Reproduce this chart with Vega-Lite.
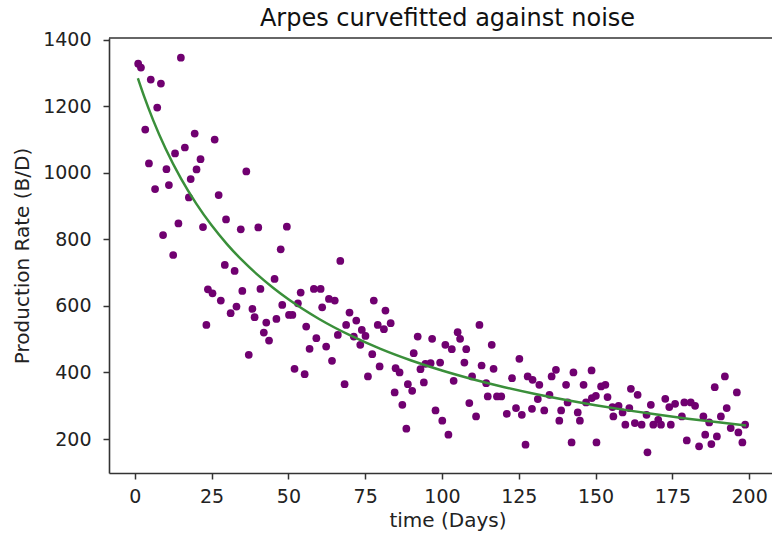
{
  "$schema": "https://vega.github.io/schema/vega-lite/v6.json",
  "autosize": {"type": "none"},
  "padding": {"left": 109, "top": 38, "right": 0, "bottom": 67},
  "width": 677,
  "height": 435,
  "background": "white",
  "title": {"text": "Arpes curvefitted against noise", "font": "DejaVu Sans", "fontSize": 24, "fontWeight": "normal", "color": "#111111", "anchor": "middle", "frame": "group", "offset": 0},
  "datasets": {
    "points": [
      {"t": 1.1, "q": 1328}, {"t": 2.0, "q": 1316}, {"t": 15.0, "q": 1346}, {"t": 5.2, "q": 1280}, {"t": 8.5, "q": 1268},
      {"t": 7.3, "q": 1196}, {"t": 3.4, "q": 1130}, {"t": 19.5, "q": 1118}, {"t": 26.0, "q": 1100}, {"t": 16.3, "q": 1076},
      {"t": 13.1, "q": 1058}, {"t": 21.4, "q": 1041}, {"t": 4.6, "q": 1028}, {"t": 10.3, "q": 1011}, {"t": 20.1, "q": 1010},
      {"t": 36.3, "q": 1004}, {"t": 18.2, "q": 981}, {"t": 11.1, "q": 963}, {"t": 6.6, "q": 951}, {"t": 27.3, "q": 933},
      {"t": 17.6, "q": 926}, {"t": 29.7, "q": 860}, {"t": 14.2, "q": 848}, {"t": 22.2, "q": 837}, {"t": 34.5, "q": 830},
      {"t": 40.2, "q": 836}, {"t": 9.2, "q": 813},
      {"t": 12.5, "q": 753}, {"t": 29.3, "q": 723}, {"t": 32.5, "q": 705}, {"t": 23.8, "q": 650}, {"t": 25.3, "q": 638},
      {"t": 35.0, "q": 645}, {"t": 40.9, "q": 651}, {"t": 28.0, "q": 616}, {"t": 33.1, "q": 598}, {"t": 31.2, "q": 578},
      {"t": 38.3, "q": 591}, {"t": 39.0, "q": 566}, {"t": 42.8, "q": 550}, {"t": 42.0, "q": 520}, {"t": 43.7, "q": 496},
      {"t": 23.3, "q": 543}, {"t": 37.1, "q": 453},
      {"t": 49.5, "q": 838}, {"t": 47.5, "q": 770}, {"t": 66.9, "q": 735}, {"t": 45.5, "q": 681}, {"t": 54.0, "q": 640},
      {"t": 58.3, "q": 651}, {"t": 60.5, "q": 651}, {"t": 63.2, "q": 621}, {"t": 65.1, "q": 616}, {"t": 53.1, "q": 608},
      {"t": 48.0, "q": 603}, {"t": 61.0, "q": 596}, {"t": 77.8, "q": 616}, {"t": 81.6, "q": 586}, {"t": 69.9, "q": 580},
      {"t": 50.2, "q": 573}, {"t": 51.3, "q": 573}, {"t": 72.1, "q": 556}, {"t": 46.1, "q": 561}, {"t": 79.1, "q": 543},
      {"t": 83.3, "q": 548}, {"t": 81.1, "q": 530}, {"t": 68.8, "q": 543}, {"t": 55.8, "q": 538}, {"t": 73.9, "q": 528},
      {"t": 66.1, "q": 513}, {"t": 71.3, "q": 508}, {"t": 75.1, "q": 510}, {"t": 73.4, "q": 483}, {"t": 59.1, "q": 503},
      {"t": 56.9, "q": 471}, {"t": 62.3, "q": 478}, {"t": 64.2, "q": 435}, {"t": 77.3, "q": 455}, {"t": 79.7, "q": 418},
      {"t": 90.8, "q": 458}, {"t": 92.1, "q": 508}, {"t": 84.9, "q": 413}, {"t": 86.2, "q": 400}, {"t": 93.0, "q": 410},
      {"t": 94.6, "q": 426}, {"t": 94.1, "q": 370}, {"t": 52.0, "q": 411}, {"t": 55.3, "q": 395}, {"t": 68.3, "q": 365},
      {"t": 75.9, "q": 388}, {"t": 88.9, "q": 365}, {"t": 90.3, "q": 345}, {"t": 84.6, "q": 340}, {"t": 87.1, "q": 303},
      {"t": 88.4, "q": 231},
      {"t": 96.8, "q": 501}, {"t": 96.3, "q": 428}, {"t": 99.4, "q": 430}, {"t": 101.1, "q": 483}, {"t": 103.2, "q": 470},
      {"t": 105.1, "q": 521}, {"t": 105.9, "q": 501}, {"t": 107.9, "q": 470}, {"t": 112.2, "q": 543}, {"t": 116.2, "q": 483},
      {"t": 107.3, "q": 430}, {"t": 112.9, "q": 421}, {"t": 116.8, "q": 411}, {"t": 103.8, "q": 375}, {"t": 109.8, "q": 388},
      {"t": 114.4, "q": 368}, {"t": 114.9, "q": 328}, {"t": 117.9, "q": 328}, {"t": 119.3, "q": 328}, {"t": 108.9, "q": 308},
      {"t": 111.1, "q": 268}, {"t": 97.9, "q": 286}, {"t": 100.1, "q": 255}, {"t": 102.1, "q": 213}, {"t": 122.8, "q": 383},
      {"t": 125.2, "q": 441}, {"t": 127.9, "q": 388}, {"t": 129.5, "q": 378}, {"t": 131.7, "q": 363}, {"t": 131.2, "q": 320},
      {"t": 121.1, "q": 276}, {"t": 124.1, "q": 293}, {"t": 126.0, "q": 273}, {"t": 129.3, "q": 291}, {"t": 133.3, "q": 286},
      {"t": 127.2, "q": 183}, {"t": 135.7, "q": 388}, {"t": 137.1, "q": 408}, {"t": 135.0, "q": 333}, {"t": 140.4, "q": 363},
      {"t": 142.8, "q": 400}, {"t": 138.8, "q": 286}, {"t": 138.2, "q": 255}, {"t": 140.9, "q": 310}, {"t": 144.2, "q": 280},
      {"t": 144.9, "q": 255}, {"t": 146.1, "q": 363}, {"t": 148.7, "q": 406}, {"t": 146.9, "q": 310}, {"t": 148.8, "q": 323},
      {"t": 150.1, "q": 330}, {"t": 142.2, "q": 190}, {"t": 150.3, "q": 190}, {"t": 151.8, "q": 358},
      {"t": 153.2, "q": 363}, {"t": 153.9, "q": 326}, {"t": 155.5, "q": 296}, {"t": 157.5, "q": 300}, {"t": 158.8, "q": 280},
      {"t": 155.8, "q": 268}, {"t": 161.0, "q": 293}, {"t": 161.5, "q": 351}, {"t": 163.7, "q": 333}, {"t": 159.7, "q": 243},
      {"t": 162.8, "q": 248}, {"t": 165.0, "q": 243}, {"t": 166.6, "q": 273}, {"t": 168.0, "q": 303}, {"t": 166.9, "q": 160},
      {"t": 168.8, "q": 243}, {"t": 170.4, "q": 258}, {"t": 171.3, "q": 243}, {"t": 172.7, "q": 321}, {"t": 174.5, "q": 243},
      {"t": 174.0, "q": 296}, {"t": 175.9, "q": 306}, {"t": 178.1, "q": 268}, {"t": 178.9, "q": 310}, {"t": 181.0, "q": 310},
      {"t": 182.4, "q": 300}, {"t": 179.7, "q": 196}, {"t": 183.7, "q": 178}, {"t": 185.1, "q": 268}, {"t": 185.7, "q": 213},
      {"t": 187.0, "q": 250}, {"t": 187.7, "q": 185}, {"t": 189.5, "q": 208}, {"t": 188.8, "q": 356}, {"t": 192.1, "q": 388},
      {"t": 190.8, "q": 268}, {"t": 192.7, "q": 293}, {"t": 196.0, "q": 340}, {"t": 194.0, "q": 233}, {"t": 196.5, "q": 220},
      {"t": 198.7, "q": 243}, {"t": 197.8, "q": 190}
    ],
    "curve": [
      {"t": 1, "q": 1284.0}, {"t": 3, "q": 1230.2}, {"t": 6, "q": 1157.5}, {"t": 10, "q": 1072.9}, {"t": 15, "q": 983.1},
      {"t": 20, "q": 907.2}, {"t": 25, "q": 842.1}, {"t": 30, "q": 785.8}, {"t": 35, "q": 736.5}, {"t": 40, "q": 693.1},
      {"t": 45, "q": 654.5}, {"t": 50, "q": 619.9}, {"t": 60, "q": 560.7}, {"t": 70, "q": 511.9}, {"t": 80, "q": 470.8},
      {"t": 90, "q": 435.9}, {"t": 100, "q": 405.8}, {"t": 110, "q": 379.6}, {"t": 120, "q": 356.5}, {"t": 130, "q": 336.1},
      {"t": 140, "q": 317.9}, {"t": 150, "q": 301.6}, {"t": 160, "q": 286.9}, {"t": 170, "q": 273.5}, {"t": 180, "q": 261.3},
      {"t": 190, "q": 250.2}, {"t": 199, "q": 241.0}
    ],
    "spine": [{"top": 1405}]
  },
  "encoding": {
    "x": {
      "field": "t", "type": "quantitative",
      "scale": {"domain": [-8.4, 212], "nice": false, "zero": false},
      "axis": {"title": "time (Days)", "values": [0, 25, 50, 75, 100, 125, 150, 175, 200], "format": "d", "labelPadding": 8, "titlePadding": 4}
    },
    "y": {
      "field": "q", "type": "quantitative",
      "scale": {"domain": [98, 1405], "nice": false, "zero": false},
      "axis": {"title": "Production Rate (B/D)", "values": [200, 400, 600, 800, 1000, 1200, 1400], "format": "d", "labelPadding": 12, "titlePadding": 10}
    }
  },
  "layer": [
    {
      "data": {"name": "points"},
      "mark": {"type": "point", "shape": "circle", "filled": true, "size": 60, "color": "#700070", "opacity": 1}
    },
    {
      "data": {"name": "curve"},
      "mark": {"type": "line", "color": "#3a8f3a", "strokeWidth": 2.5, "interpolate": "monotone"}
    },
    {
      "data": {"name": "spine"},
      "mark": {"type": "rule", "color": "#333333", "strokeWidth": 1.6},
      "encoding": {"x": null, "y": {"field": "top", "type": "quantitative"}}
    }
  ],
  "config": {
    "view": {"stroke": null},
    "axis": {
      "domain": true, "domainColor": "#333333", "domainWidth": 1.6, "grid": false,
      "tickSize": 6, "tickWidth": 1.5, "tickColor": "#333333",
      "labelFont": "DejaVu Sans", "labelFontSize": 19, "labelColor": "#222222",
      "labelFlush": false, "labelOverlap": false,
      "titleFont": "DejaVu Sans", "titleFontSize": 20, "titleFontWeight": "normal", "titleColor": "#222222"
    }
  }
}
